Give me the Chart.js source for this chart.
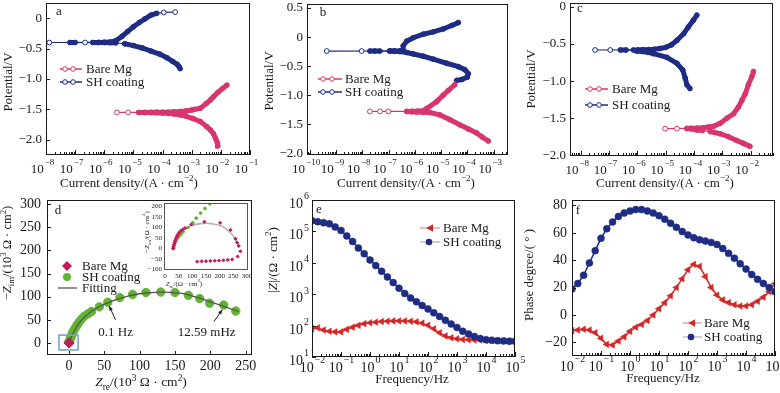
<!DOCTYPE html>
<html>
<head>
<meta charset="utf-8">
<title>Polarization curves and EIS</title>
<script src="https://cdn.jsdelivr.net/npm/chart.js@4"></script>
<style>
  body { margin: 0; background: #fff; }
  #stage { position: relative; width: 780px; height: 393px; overflow: hidden; font-family: "Liberation Serif", "Times New Roman", serif; color: #1a1a1a; }
  #stage canvas { position: absolute; }
  .lbl { position: absolute; white-space: nowrap; font-size: 13px; line-height: 1; transform: translate(-50%, -50%); z-index: 2; }
  .lbl.v { transform: translate(-50%, -50%) rotate(-90deg); }
  .lbl sup, .lbl sub { font-size: 0.7em; line-height: 0; }
  .lbl.small { font-size: 7px; }
</style>
</head>
<body>
<div id="stage">
  <!-- axis titles -->
  <div class="lbl v" style="left:7px;top:82px">Potential/V</div>
  <div class="lbl v" style="left:268px;top:81px">Potential/V</div>
  <div class="lbl v" style="left:530px;top:79px">Potential/V</div>
  <div class="lbl" style="left:129px;top:182px">Current density/(A · cm<sup>−2</sup>)</div>
  <div class="lbl" style="left:406px;top:182px">Current density/(A · cm<sup>−2</sup>)</div>
  <div class="lbl" style="left:665px;top:182px">Current density/(A · cm<sup>−2</sup>)</div>
  <div class="lbl v" style="left:7px;top:253px;font-size:12.5px">−<i>Z</i><sub>im</sub>/(10<sup>3</sup> Ω · cm<sup>2</sup>)</div>
  <div class="lbl" style="left:141px;top:382px;font-size:13.5px"><i>Z</i><sub>re</sub>/(10<sup>3</sup> Ω · cm<sup>2</sup>)</div>
  <div class="lbl v" style="left:272px;top:260px">|<i>Z</i>|/(Ω · cm<sup>2</sup>)</div>
  <div class="lbl" style="left:412px;top:378px">Frequency/Hz</div>
  <div class="lbl v" style="left:528px;top:275px">Phase degree/( ° )</div>
  <div class="lbl" style="left:663px;top:377px">Frequency/Hz</div>
  <div class="lbl v small" style="left:147px;top:232px">−<i>Z</i><sub>im</sub>/(Ω · cm<sup>2</sup>)</div>
  <div class="lbl small" style="left:184px;top:284px"><i>Z</i><sub>re</sub>/(Ω · cm<sup>2</sup>)</div>
</div>
<script>
// ---- panel a: polarization curves (current A/cm2, potential V), in scan order ----
const aBareI = [7.9e-3, 7.6e-3, 6.6e-3, 5.6e-3, 4.4e-3, 3.2e-3, 2.0e-3, 1.1e-3, 6.3e-4, 4.0e-4, 2.5e-4, 1.6e-4, 1.0e-4, 6.3e-5, 4.0e-5, 2.5e-5, 1.5e-5, 6.6e-6, 2.7e-6, 2.5e-5, 4.0e-5, 6.3e-5, 1.0e-4, 1.6e-4, 2.5e-4, 4.0e-4, 6.3e-4, 1.0e-3, 1.26e-3, 2.0e-3, 3.2e-3, 4.5e-3, 5.6e-3, 7.9e-3, 1.12e-2, 1.62e-2];
const aBareE = [-2.10, -2.05, -1.98, -1.90, -1.84, -1.78, -1.70, -1.65, -1.61, -1.59, -1.575, -1.565, -1.56, -1.555, -1.553, -1.552, -1.55, -1.55, -1.55, -1.549, -1.548, -1.547, -1.546, -1.545, -1.54, -1.535, -1.525, -1.51, -1.50, -1.48, -1.40, -1.34, -1.29, -1.22, -1.16, -1.10];
const aShI = [4.0e-4, 3.7e-4, 3.2e-4, 2.2e-4, 1.4e-4, 7.9e-5, 4.0e-5, 2.0e-5, 1.0e-5, 5.0e-6, 2.5e-6, 1.6e-6, 1.0e-6, 6.3e-7, 4.0e-7, 2.2e-7, 1.0e-7, 6.6e-8, 1.3e-8, 6.3e-7, 1.0e-6, 1.6e-6, 2.5e-6, 4.0e-6, 6.3e-6, 1.0e-5, 1.6e-5, 2.5e-5, 4.0e-5, 6.3e-5, 1.1e-4, 2.7e-4];
const aShE = [-0.83, -0.80, -0.76, -0.71, -0.65, -0.59, -0.54, -0.49, -0.45, -0.42, -0.405, -0.402, -0.40, -0.40, -0.40, -0.40, -0.40, -0.40, -0.40, -0.399, -0.397, -0.393, -0.37, -0.30, -0.22, -0.14, -0.07, -0.01, 0.05, 0.08, 0.095, 0.10];

// ---- panel b ----
const bBareI = [6.2e-4, 3.6e-4, 2.2e-4, 1.05e-4, 5.1e-5, 2.1e-5, 8.9e-6, 3.7e-6, 2.1e-6, 1.17e-6, 7.5e-7, 4.9e-7, 9.8e-8, 4.7e-8, 1.95e-8, 4.9e-7, 7.9e-7, 1.26e-6, 2.0e-6, 2.8e-6, 6.8e-6, 1.2e-5, 1.86e-5, 3.3e-5];
const bBareE = [-1.79, -1.72, -1.65, -1.58, -1.51, -1.42, -1.34, -1.30, -1.295, -1.29, -1.285, -1.28, -1.28, -1.28, -1.28, -1.279, -1.278, -1.275, -1.27, -1.23, -1.11, -1.00, -0.92, -0.82];
const bShI = [3.9e-5, 6.0e-5, 9.8e-5, 1.07e-4, 7.9e-5, 4.5e-5, 1.6e-5, 5.0e-6, 2.1e-6, 8.7e-7, 4.9e-7, 2.7e-7, 1.7e-7, 1.1e-7, 4.7e-8, 3.0e-8, 1.95e-8, 9.5e-9, 4.5e-10, 1.1e-7, 1.7e-7, 2.7e-7, 3.6e-7, 3.6e-7, 4.9e-7, 8.7e-7, 2.1e-6, 5.0e-6, 1.2e-5, 2.5e-5, 4.5e-5];
const bShE = [-0.745, -0.73, -0.69, -0.63, -0.56, -0.51, -0.45, -0.38, -0.33, -0.29, -0.265, -0.25, -0.242, -0.24, -0.24, -0.24, -0.24, -0.24, -0.24, -0.239, -0.238, -0.236, -0.232, -0.15, -0.07, -0.01, 0.05, 0.09, 0.14, 0.20, 0.25];

// ---- panel c ----
const cBareI = [9.5e-3, 5.6e-3, 3.2e-3, 1.66e-3, 8.3e-4, 3.7e-4, 2.0e-4, 1.26e-4, 8.0e-5, 5.6e-5, 2.5e-5, 9.5e-6, 5.6e-5, 8.0e-5, 1.26e-4, 2.0e-4, 3.2e-4, 4.9e-4, 8.3e-4, 1.45e-3, 2.5e-3, 3.7e-3, 4.9e-3, 6.5e-3, 8.3e-3, 1.1e-2, 1.26e-2];
const cBareE = [-1.88, -1.84, -1.80, -1.75, -1.71, -1.68, -1.665, -1.66, -1.645, -1.64, -1.64, -1.64, -1.638, -1.636, -1.634, -1.63, -1.62, -1.61, -1.57, -1.50, -1.44, -1.35, -1.26, -1.17, -1.05, -0.94, -0.87];
const cShI = [7.2e-5, 5.6e-5, 4.9e-5, 4.0e-5, 2.5e-5, 1.1e-5, 3.7e-6, 2.3e-6, 1.5e-6, 9.5e-7, 7.2e-7, 4.0e-7, 2.5e-7, 1.1e-7, 3.2e-8, 1.0e-6, 1.6e-6, 2.5e-6, 4.0e-6, 6.3e-6, 1.0e-5, 1.6e-5, 2.5e-5, 4.3e-5, 6.3e-5, 9.5e-5, 1.26e-4];
const cShE = [-1.10, -1.05, -0.96, -0.85, -0.76, -0.68, -0.63, -0.61, -0.60, -0.595, -0.58, -0.58, -0.58, -0.58, -0.58, -0.578, -0.577, -0.575, -0.57, -0.56, -0.545, -0.51, -0.45, -0.36, -0.27, -0.18, -0.11];

// ---- panel d: Nyquist (10^3 ohm cm2) ----
const dShRe = [0, 1, 2, 3, 4, 5, 6, 8, 10, 12, 15, 18, 22, 27, 32, 43, 55, 72, 90, 109, 130, 150, 169, 185, 199, 219, 236];
const dShIm = [2, 5, 9, 13, 17, 21, 25, 30, 35, 40, 46, 52, 58, 63, 68, 78, 88, 98, 105, 109, 110, 109, 103, 96, 86, 82, 69];
const dFitRe = [0, 3, 8, 15, 25, 40, 60, 85, 110, 135, 160, 185, 210, 240];
const dFitIm = [0, 12, 27, 44, 60, 76, 90, 102, 108, 110, 107, 97, 84, 68];
const dBareRe = [0.03, 0.06, 0.15, 0.27];
const dBareIm = [0.0, 0.09, 0.12, 0.0];
const dNotes = ['0.1 Hz', '12.59 mHz'];
const dNoteRe = [66, 195], dNoteIm = [22, 22];
const dArrowFrom = [[66, 50], [205, 46]], dArrowTo = [[57, 80], [217, 72]];
const dBoxRe = [-14, 13], dBoxIm = [-15, 17];

// inset of panel d (ohm cm2)
const inBareRe = [30, 31, 33, 35, 37, 40, 43, 47, 52, 58, 65, 73, 96, 144, 202, 240, 258, 264, 270, 276, 266, 246, 230, 214, 198, 182, 166, 150, 134, 118];
const inBareIm = [0, 8, 18, 28, 38, 48, 58, 67, 76, 84, 91, 97, 114, 127, 122, 88, 46, 28, 12, -13, -38, -52, -54, -56, -57, -58, -59, -60, -61, -62];
const inShRe = [30, 31, 33, 36, 40, 45, 51, 58, 66, 84, 102, 114, 130, 146, 164];
const inShIm = [0, 8, 18, 28, 38, 48, 58, 68, 80, 100, 122, 144, 168, 190, 212];
const inFitRe = [30, 40, 60, 90, 130, 170, 210, 240, 260, 272];
const inFitIm = [0, 40, 80, 105, 118, 118, 105, 75, 40, 10];

// ---- panels e, f: Bode ----
const freq = [0.01, 0.0158, 0.0251, 0.0398, 0.0631, 0.1, 0.158, 0.251, 0.398, 0.631, 1, 1.58, 2.51, 3.98, 6.31, 10, 15.8, 25.1, 39.8, 63.1, 100, 158, 251, 398, 631, 1000, 1580, 2510, 3980, 6310, 10000, 15800, 25100, 39800, 63100, 100000];
const eShZ = [2.19e5, 2.04e5, 1.9e5, 1.74e5, 1.38e5, 1.07e5, 7.2e4, 4.8e4, 2.95e4, 1.95e4, 1.23e4, 8130, 5370, 3550, 2340, 1550, 1050, 760, 575, 437, 339, 257, 195, 148, 112, 87, 66, 54, 45, 39, 35.5, 34, 33, 32.4, 31.6, 31.6];
const eBareZ = [79, 85, 72, 66, 63, 63, 76, 89, 102, 115, 123, 129, 135, 138, 141, 141, 141, 138, 132, 120, 102, 79, 59, 47, 41, 38, 36, 35.5, 34.7, 34.7, 33.9, 33.9, 33.1, 33.1, 32.4, 32.4];
const fShPh = [19, 23, 29, 38, 47, 56, 63, 68, 72, 74.5, 76, 77, 77, 76, 74.5, 72.5, 70, 67, 64, 61, 58.5, 56.5, 55, 54, 53, 51.5, 48.5, 45, 41.5, 37.5, 33.5, 29.5, 26, 23, 20, 17];
const fBarePh = [-11.5, -11, -10.5, -11, -13, -17, -21.5, -22, -19, -16, -12, -9, -7, -4, 0, 4.5, 9, 14, 20, 26.5, 33, 37, 35.5, 28, 20, 14.5, 11, 9, 7.5, 6.5, 6.5, 7.5, 10, 13, 17, 23];

// ---- tick labels ----
const aXExp = [-8, -7, -6, -5, -4, -3, -2, -1];
const bXExp = [-10, -9, -8, -7, -6, -5, -4, -3];
const cXExp = [-8, -7, -6, -5, -4, -3, -2];
const efXExp = [-2, -1, 0, 1, 2, 3, 4, 5];
const eYExp = [1, 2, 3, 4, 5, 6];
const aYTicks = [0, -0.5, -1, -1.5, -2];
const bYTicks = [0.5, 0, -0.5, -1, -1.5, -2];
const cYTicks = [0, -0.5, -1, -1.5, -2];
const dXTicks = [0, 50, 100, 150, 200, 250];
const dYTicks = [0, 50, 100, 150, 200, 250, 300];
const fYTicks = [80, 60, 40, 20, 0, -20];
const inXTicks = [0, 50, 100, 150, 200, 250, 300];
const inYTicks = [-100, -50, 0, 50, 100, 150, 200];

const FONT = '"Liberation Serif", "Times New Roman", serif';
const PINK = '#d8356f', NAVY = '#1e2c84', GREEN = '#62b234', CRIM = '#c8175c', RED = '#d42626';
Chart.defaults.font.family = FONT;
Chart.defaults.color = '#1a1a1a';

const minus = s => String(s).replace('-', '\u2212');
const fmt1 = v => v === 0 ? '0' : minus(v.toFixed(1));
const fmt0 = v => minus(v);
const pts = (xs, ys) => xs.map((x, i) => ({ x, y: ys[i] }));

// draws a "10" with a raised exponent
function drawPow(ctx, exp, x, y, size, align) {
  const ss = Math.round(size * 0.7);
  ctx.font = size + 'px ' + FONT;
  const w1 = ctx.measureText('10').width;
  ctx.font = ss + 'px ' + FONT;
  const w2 = ctx.measureText(minus(exp)).width;
  const x0 = align === 'right' ? x - w1 - w2 - 1 : x - (w1 + w2) / 2;
  ctx.textAlign = 'left';
  ctx.textBaseline = 'alphabetic';
  ctx.font = size + 'px ' + FONT;
  ctx.fillText('10', x0, y);
  ctx.font = ss + 'px ' + FONT;
  ctx.fillText(minus(exp), x0 + w1 + 1, y - size * 0.62);
}

function drawMark(ctx, kind, x, y, r, color) {
  ctx.beginPath();
  if (kind === 'tri') {
    ctx.moveTo(x - r, y); ctx.lineTo(x + r * 0.8, y - r); ctx.lineTo(x + r * 0.8, y + r); ctx.closePath();
    ctx.fillStyle = color; ctx.fill();
  } else if (kind === 'dia') {
    ctx.moveTo(x, y - r); ctx.lineTo(x + r, y); ctx.lineTo(x, y + r); ctx.lineTo(x - r, y); ctx.closePath();
    ctx.fillStyle = color; ctx.fill();
  } else {
    ctx.arc(x, y, r, 0, Math.PI * 2);
    if (kind === 'open') {
      ctx.fillStyle = '#fff'; ctx.fill(); ctx.lineWidth = 1; ctx.strokeStyle = color; ctx.stroke();
    } else { ctx.fillStyle = color; ctx.fill(); }
  }
}

// frame, inward ticks, power-of-ten labels, legend, panel letter, notes
const deco = {
  id: 'deco',
  afterDatasetsDraw(chart, args, o) {
    const { ctx, chartArea: ca } = chart;
    const xs = chart.scales.x, ys = chart.scales.y;
    ctx.save();
    ctx.strokeStyle = o.frame || '#1a1a1a';
    ctx.lineWidth = 1;
    ctx.strokeRect(Math.round(ca.left) + 0.5, Math.round(ca.top) + 0.5, Math.round(ca.width) - 1, Math.round(ca.height) - 1);
    if (o.ticks !== false) {
      ctx.beginPath();
      const bx = (v, len) => { const p = Math.round(xs.getPixelForValue(v)) + 0.5; ctx.moveTo(p, ca.bottom); ctx.lineTo(p, ca.bottom - len); };
      const ly = (v, len) => { const p = Math.round(ys.getPixelForValue(v)) + 0.5; ctx.moveTo(ca.left, p); ctx.lineTo(ca.left + len, p); };
      if (xs.type === 'logarithmic') {
        const lo = Math.floor(Math.log10(xs.min)), hi = Math.ceil(Math.log10(xs.max));
        for (let e = lo; e <= hi; e++) {
          for (let m = 1; m < 10; m++) {
            const v = m * Math.pow(10, e);
            if (v >= xs.min && v <= xs.max) bx(v, m === 1 ? 5 : 3);
          }
        }
      } else xs.ticks.forEach(t => bx(t.value, 4));
      if (ys.type === 'logarithmic') o.yExp.forEach(e => ly(Math.pow(10, e), 4));
      else ys.ticks.forEach(t => ly(t.value, 4));
      ctx.stroke();
    }
    ctx.fillStyle = '#1a1a1a';
    if (o.xExp) o.xExp.forEach(e => drawPow(ctx, e, xs.getPixelForValue(Math.pow(10, e)) + (o.xShift || 0), ca.bottom + o.xBase, o.size, 'center'));
    if (o.yExp) o.yExp.forEach(e => drawPow(ctx, e, ca.left - 3, ys.getPixelForValue(Math.pow(10, e)) + o.yBase, o.size, 'right'));
    if (o.letter) {
      ctx.font = '13px ' + FONT; ctx.textAlign = 'center'; ctx.textBaseline = 'middle';
      ctx.fillText(o.letter[0], ca.left + o.letter[1], ca.top + o.letter[2]);
    }
    if (o.legend) {
      const lg = o.legend;
      lg.items.forEach(it => {
        const y = ca.top + it.dy;
        if (it.line) {
          ctx.beginPath(); ctx.strokeStyle = it.lineColor; ctx.lineWidth = it.lw || 1.5;
          ctx.moveTo(ca.left + it.line[0], y); ctx.lineTo(ca.left + it.line[1], y); ctx.stroke();
        }
        (it.marks || []).forEach(mx => drawMark(ctx, it.mark, ca.left + mx, y, it.r || 2.3, it.color));
        ctx.fillStyle = '#1a1a1a'; ctx.font = lg.size + 'px ' + FONT;
        ctx.textAlign = 'left'; ctx.textBaseline = 'middle';
        ctx.fillText(it.text, ca.left + lg.tx, y + 0.5);
      });
    }
    if (o.box) {
      ctx.strokeStyle = '#76a3da'; ctx.lineWidth = 1.6;
      const x0 = xs.getPixelForValue(o.box[0][0]), x1 = xs.getPixelForValue(o.box[0][1]);
      const y0 = ys.getPixelForValue(o.box[1][0]), y1 = ys.getPixelForValue(o.box[1][1]);
      ctx.strokeRect(x0, y1, x1 - x0, y0 - y1);
    }
    if (o.notes) {
      ctx.fillStyle = '#1a1a1a'; ctx.font = '13px ' + FONT; ctx.textAlign = 'center'; ctx.textBaseline = 'middle';
      o.notes.text.forEach((t, i) => ctx.fillText(t, xs.getPixelForValue(o.notes.re[i]), ys.getPixelForValue(o.notes.im[i])));
      ctx.strokeStyle = '#222'; ctx.lineWidth = 1;
      o.notes.from.forEach((f, i) => {
        const t = o.notes.to[i];
        const x1 = xs.getPixelForValue(f[0]), y1 = ys.getPixelForValue(f[1]);
        const x2 = xs.getPixelForValue(t[0]), y2 = ys.getPixelForValue(t[1]);
        const a = Math.atan2(y2 - y1, x2 - x1);
        ctx.beginPath(); ctx.moveTo(x1, y1); ctx.lineTo(x2, y2); ctx.stroke();
        ctx.beginPath();
        ctx.moveTo(x2, y2);
        ctx.lineTo(x2 - 5 * Math.cos(a - 0.4), y2 - 5 * Math.sin(a - 0.4));
        ctx.lineTo(x2 - 5 * Math.cos(a + 0.4), y2 - 5 * Math.sin(a + 0.4));
        ctx.closePath(); ctx.fillStyle = '#222'; ctx.fill();
      });
    }
    ctx.restore();
  }
};

function linAxis(min, max, ticks, fmt, size, pad) {
  return {
    type: 'linear', min, max,
    afterBuildTicks: s => { s.ticks = ticks.map(v => ({ value: v })); },
    ticks: { callback: fmt, font: { size }, padding: pad, autoSkip: false, maxRotation: 0, color: '#1a1a1a' }
  };
}
function logAxis(min, max) {
  return { type: 'logarithmic', min, max, ticks: { display: false } };
}

// box = plot area in page pixels [left, top, right, bottom]; pads = [yAxisWidth, top, right, xAxisHeight]
function build(box, pads, xOpt, yOpt, datasets, decoOpt) {
  const [l, t, r, b] = box;
  const [yW, padT, padR, xH] = pads;
  const cv = document.createElement('canvas');
  const W = r - l + yW + padR, H = b - t + padT + xH;
  cv.width = W; cv.height = H;
  Object.assign(cv.style, { left: (l - yW) + 'px', top: (t - padT) + 'px', width: W + 'px', height: H + 'px' });
  document.getElementById('stage').appendChild(cv);
  xOpt.afterFit = s => { s.height = xH; s.paddingLeft = 0; s.paddingRight = 0; };
  yOpt.afterFit = s => { s.width = yW; s.paddingTop = 0; s.paddingBottom = 0; };
  xOpt.grid = { display: false, drawTicks: false }; xOpt.border = { display: false };
  yOpt.grid = { display: false, drawTicks: false }; yOpt.border = { display: false };
  return new Chart(cv, {
    type: 'scatter',
    data: { datasets },
    options: {
      responsive: false, animation: false, devicePixelRatio: 1,
      layout: { autoPadding: false, padding: { left: 0, top: padT, right: padR, bottom: 0 } },
      plugins: { legend: { display: false }, tooltip: { enabled: false }, deco: decoOpt },
      scales: { x: xOpt, y: yOpt }
    },
    plugins: [deco]
  });
}

// the recorded curves are so dense that their markers merge into a band;
// close steps are drawn as a band, long flat steps as a thin line with open circles
const DENSE = 17;
const thickStep = (dx, dy) => { const len = Math.hypot(dx, dy); return len < 7 || (len < DENSE && Math.abs(dy) > 1.5); };
function stepAt(chart, ds, i, j) {
  const d = chart.data.datasets[ds].data;
  if (j < 0 || j >= d.length) return false;
  const xs = chart.scales.x, ys = chart.scales.y;
  return thickStep(xs.getPixelForValue(d[j].x) - xs.getPixelForValue(d[i].x), ys.getPixelForValue(d[j].y) - ys.getPixelForValue(d[i].y));
}
const inBand = c => stepAt(c.chart, c.datasetIndex, c.dataIndex, c.dataIndex - 1) || stepAt(c.chart, c.datasetIndex, c.dataIndex, c.dataIndex + 1);

function tafel(label, xs, ys, color) {
  return {
    label, data: pts(xs, ys), showLine: true, borderColor: color, borderWidth: 1.2,
    segment: { borderWidth: c => thickStep(c.p1.x - c.p0.x, c.p1.y - c.p0.y) ? 5 : 1.2 },
    pointRadius: 2.4, pointBorderWidth: 1, pointBorderColor: color,
    pointBackgroundColor: c => inBand(c) ? color : '#fff'
  };
}
function eis(label, ys, color, tri) {
  return {
    label, data: pts(freq, ys), showLine: true, borderColor: color, borderWidth: 1.5,
    pointStyle: tri ? 'triangle' : 'circle', pointRotation: tri ? -90 : 0,
    pointRadius: tri ? 3.8 : 3.5, pointBorderWidth: 0.5, pointBorderColor: color, pointBackgroundColor: color
  };
}
const tafelLegend = (tx, dy1, dy2, line, marks) => ({
  size: 13, tx,
  items: [
    { text: 'Bare Mg', dy: dy1, line, lineColor: PINK, marks, mark: 'open', color: PINK },
    { text: 'SH coating', dy: dy2, line, lineColor: NAVY, marks, mark: 'open', color: NAVY }
  ]
});

// a
build([46, 3, 250, 155], [44, 10, 18, 30],
  logAxis(1e-8, 1e-1), linAxis(-2.25, 0.25, aYTicks, fmt1, 13, 4),
  [tafel('Bare Mg', aBareI, aBareE, PINK), tafel('SH coating', aShI, aShE, NAVY)],
  { xExp: aXExp, xShift: -4, xBase: 18, size: 13, letter: ['a', 13, 9], legend: tafelLegend(40, 66, 79, [14, 36], [19, 27]) });

// b
build([307, 4, 508, 155], [44, 10, 18, 30],
  logAxis(Math.pow(10, -10.1), Math.pow(10, -2.46)), linAxis(-2.03, 0.57, bYTicks, fmt1, 13, 4),
  [tafel('Bare Mg', bBareI, bBareE, PINK), tafel('SH coating', bShI, bShE, NAVY)],
  { xExp: bXExp, xShift: -4, xBase: 18, size: 13, letter: ['b', 16, 9], legend: tafelLegend(38, 75, 88, [11, 35], [16, 25]) });

// c
build([570, 3, 773, 156], [44, 10, 7, 30],
  logAxis(Math.pow(10, -8.38), Math.pow(10, -1.21)), linAxis(-2.01, 0.054, cYTicks, fmt1, 13, 4),
  [tafel('Bare Mg', cBareI, cBareE, PINK), tafel('SH coating', cShI, cShE, NAVY)],
  { xExp: cXExp, xShift: -4, xBase: 18, size: 13, letter: ['c', 10, 6], legend: tafelLegend(42, 86, 102, [15, 38], [20, 29]) });

// d
build([47, 200, 252, 355], [44, 10, 18, 30],
  linAxis(-31, 259, dXTicks, fmt0, 14, 3), linAxis(-26, 309, dYTicks, fmt0, 14, 6),
  [
    { label: 'Fitting', data: pts(dFitRe, dFitIm), showLine: true, borderColor: '#555', borderWidth: 1.3, tension: 0.4, pointRadius: 0 },
    { label: 'Bare Mg', data: pts(dBareRe, dBareIm), pointStyle: 'rectRot', pointRadius: 5, pointBackgroundColor: CRIM, pointBorderColor: CRIM },
    { label: 'SH coating', data: pts(dShRe, dShIm), pointRadius: 4.2, pointBackgroundColor: GREEN, pointBorderColor: GREEN }
  ],
  {
    letter: ['d', 11, 11],
    legend: { size: 13, tx: 35, items: [
      { text: 'Bare Mg', dy: 66, marks: [20], mark: 'dia', color: CRIM, r: 5 },
      { text: 'SH coating', dy: 77, marks: [20], mark: 'dot', color: GREEN, r: 4 },
      { text: 'Fitting', dy: 88, line: [11, 30], lineColor: '#555', lw: 1.3 }
    ] },
    box: [dBoxRe, dBoxIm],
    notes: { text: dNotes, re: dNoteRe, im: dNoteIm, from: dArrowFrom, to: dArrowTo }
  });

// d inset
build([164, 203, 248, 270], [20, 4, 10, 14],
  linAxis(-4, 304, inXTicks, fmt0, 7, 2), linAxis(-102, 216, inYTicks, fmt0, 7, 2),
  [
    { label: 'Bare Mg', data: pts(inBareRe, inBareIm), pointStyle: 'rectRot', pointRadius: 1.6, pointBackgroundColor: CRIM, pointBorderColor: CRIM },
    { label: 'SH coating', data: pts(inShRe, inShIm), pointRadius: 1.4, pointBackgroundColor: GREEN, pointBorderColor: GREEN },
    { label: 'Fitting', data: pts(inFitRe, inFitIm), showLine: true, borderColor: '#b0b0b0', borderWidth: 1.6, tension: 0.4, pointRadius: 0 }
  ],
  { ticks: false, frame: '#555' });

// e
build([312, 200, 515, 357], [44, 10, 25, 30],
  logAxis(0.01, 1e5), logAxis(10, 1e6),
  [eis('SH coating', eShZ, NAVY, false), eis('Bare Mg', eBareZ, RED, true)],
  {
    xExp: efXExp, xBase: 15, yExp: eYExp, yBase: 8, size: 14, letter: ['e', 7, 10],
    legend: { size: 13, tx: 131, items: [
      { text: 'Bare Mg', dy: 28, line: [108, 128], lineColor: '#efa0a0', marks: [118], mark: 'tri', color: RED, r: 3.8 },
      { text: 'SH coating', dy: 42, line: [108, 128], lineColor: '#c4c4c8', marks: [117], mark: 'dot', color: NAVY, r: 3.3 }
    ] }
  });

// f
build([572, 200, 775, 356], [44, 10, 5, 30],
  logAxis(0.01, 1e5), linAxis(-30, 84, fYTicks, fmt0, 14, 5),
  [eis('SH coating', fShPh, NAVY, false), eis('Bare Mg', fBarePh, RED, true)],
  {
    xExp: efXExp, xBase: 15, size: 14, letter: ['f', 6, 11],
    legend: { size: 13, tx: 132, items: [
      { text: 'Bare Mg', dy: 123, line: [111, 130], lineColor: '#efa0a0', marks: [120], mark: 'tri', color: RED, r: 3.8 },
      { text: 'SH coating', dy: 137, line: [111, 130], lineColor: '#c4c4c8', marks: [119], mark: 'dot', color: NAVY, r: 3.3 }
    ] }
  });
</script>
</body>
</html>
